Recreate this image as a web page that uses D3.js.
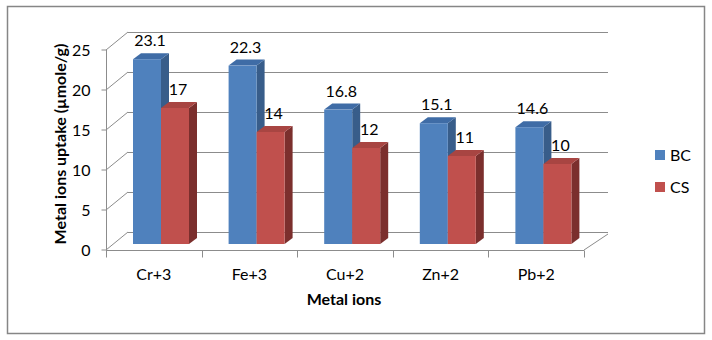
<!DOCTYPE html>
<html>
<head>
<meta charset="utf-8">
<script src="https://cdn.jsdelivr.net/npm/d3@7"></script>
<style>
  body { margin: 0; background: #fff; }
  text { font-family: Lato, "Open Sans", sans-serif; fill: #000; }
</style>
</head>
<body>
<div id="chart"></div>
<script>
// chart values
const categories = ["Cr+3", "Fe+3", "Cu+2", "Zn+2", "Pb+2"];
const seriesNames = ["BC", "CS"];
const bcValues = [23.1, 22.3, 16.8, 15.1, 14.6];
const csValues = [17, 14, 12, 11, 10];
const yTicks = [0, 5, 10, 15, 20, 25];

const width = 712, height = 340;

// 3d offsets
const wall = {dx: 22, dy: -18};
const shift = {dx: 7, dy: -6};
const depth = {dx: 8, dy: -6};

const colors = {
    BC: {front: "#4f81bd", top: "#3f6ca6", side: "#385d8a"},
    CS: {front: "#c0504d", top: "#a84542", side: "#7b2f2d"}
};

const svg = d3.select("#chart").append("svg")
    .attr("width", width)
    .attr("height", height);

svg.append("rect")
    .attr("x", 7.5).attr("y", 6.5)
    .attr("width", 697).attr("height", 327)
    .attr("fill", "#fff")
    .attr("stroke", "#868686")
    .attr("stroke-width", 1.5);

const x = d3.scaleBand().domain(categories).range([106, 584]).padding(0);
const xs = d3.scaleBand().domain(seriesNames).range([27, 83]).padding(0);
const y = d3.scaleLinear().domain([0, 25]).range([250, 50]);

const gridColor = "#8c8c8c";
const grid = svg.append("g").attr("stroke", gridColor).attr("fill", "none");

// back wall gridlines
grid.selectAll("line.back")
    .data(yTicks)
    .join("line")
    .attr("class", "back")
    .attr("x1", 106 + wall.dx).attr("x2", 584 + wall.dx + 2)
    .attr("y1", d => Math.round(y(d) + wall.dy) + 0.5)
    .attr("y2", d => Math.round(y(d) + wall.dy) + 0.5);

// side wall diagonals
grid.selectAll("line.side")
    .data(yTicks)
    .join("line")
    .attr("class", "side")
    .attr("x1", 106).attr("y1", d => y(d))
    .attr("x2", 106 + wall.dx).attr("y2", d => y(d) + wall.dy);

// floor right diagonal
grid.append("line")
    .attr("x1", 584).attr("y1", y(0))
    .attr("x2", 584 + wall.dx + 2).attr("y2", y(0) + wall.dy + 2);

// y axis
const yAxisG = svg.append("g").attr("transform", "translate(106.5,0)");
yAxisG.append("line")
    .attr("y1", y(25)).attr("y2", y(0))
    .attr("stroke", gridColor);
yAxisG.selectAll("line.tick")
    .data(yTicks)
    .join("line")
    .attr("class", "tick")
    .attr("x1", -5).attr("x2", 0)
    .attr("y1", d => y(d)).attr("y2", d => y(d))
    .attr("stroke", gridColor);
yAxisG.selectAll("text")
    .data(yTicks)
    .join("text")
    .attr("x", -16)
    .attr("y", d => y(d))
    .attr("dy", "0.36em")
    .attr("text-anchor", "end")
    .style("font-size", "16px")
    .text(d => d);

// x axis
const xAxisG = svg.append("g").attr("transform", `translate(0,${y(0) + 0.5})`);
xAxisG.append("line")
    .attr("x1", 106).attr("x2", 584)
    .attr("stroke", gridColor);
xAxisG.selectAll("line.tick")
    .data(categories.concat(["end"]))
    .join("line")
    .attr("class", "tick")
    .attr("x1", (d, i) => Math.round(106 + i * x.step()) + 0.5)
    .attr("x2", (d, i) => Math.round(106 + i * x.step()) + 0.5)
    .attr("y1", 0).attr("y2", 7)
    .attr("stroke", gridColor);
xAxisG.selectAll("text")
    .data(categories)
    .join("text")
    .attr("x", d => x(d) + x.bandwidth() / 2)
    .attr("y", 29)
    .attr("text-anchor", "middle")
    .style("font-size", "16px")
    .text(d => d);

// bars
const barData = [];
categories.forEach((c, i) => {
    barData.push({cat: c, series: "BC", value: bcValues[i]});
    barData.push({cat: c, series: "CS", value: csValues[i]});
});

const bars = svg.append("g").selectAll("g")
    .data(barData)
    .join("g");

bars.each(function (d) {
    const g = d3.select(this);
    const x0 = x(d.cat) + xs(d.series);
    const x1 = x0 + xs.bandwidth();
    const yb = y(0) + shift.dy;
    const yt = y(d.value) + shift.dy;
    const c = colors[d.series];

    g.append("polygon")
        .attr("points", [[x1, yt], [x1 + depth.dx, yt + depth.dy], [x1 + depth.dx, yb + depth.dy], [x1, yb]].join(" "))
        .attr("fill", c.side);
    g.append("polygon")
        .attr("points", [[x0, yt], [x0 + depth.dx, yt + depth.dy], [x1 + depth.dx, yt + depth.dy], [x1, yt]].join(" "))
        .attr("fill", c.top);
    g.append("rect")
        .attr("x", x0).attr("y", yt)
        .attr("width", x1 - x0).attr("height", yb - yt)
        .attr("fill", c.front);
});

// value labels
svg.append("g").selectAll("text")
    .data(barData)
    .join("text")
    .attr("x", d => x(d.cat) + xs(d.series) + xs.bandwidth() / 2 + 3)
    .attr("y", d => y(d.value) + shift.dy - 13)
    .attr("text-anchor", "middle")
    .style("font-size", "16px")
    .text(d => d.value);

// axis titles
svg.append("text")
    .attr("transform", "translate(66,144) rotate(-90)")
    .attr("text-anchor", "middle")
    .style("font-size", "16px")
    .style("font-weight", "bold")
    .text("Metal ions uptake (µmole/g)");

svg.append("text")
    .attr("x", 344).attr("y", 305)
    .attr("text-anchor", "middle")
    .style("font-size", "16px")
    .style("font-weight", "bold")
    .text("Metal ions");

// legend
const legend = svg.append("g").selectAll("g")
    .data(seriesNames)
    .join("g")
    .attr("transform", (d, i) => `translate(655,${150 + i * 32})`);
legend.append("rect")
    .attr("width", 10).attr("height", 10)
    .attr("fill", d => colors[d].front);
legend.append("text")
    .attr("x", 15).attr("y", 5)
    .attr("dy", "0.36em")
    .style("font-size", "16px")
    .text(d => d);
</script>
</body>
</html>
